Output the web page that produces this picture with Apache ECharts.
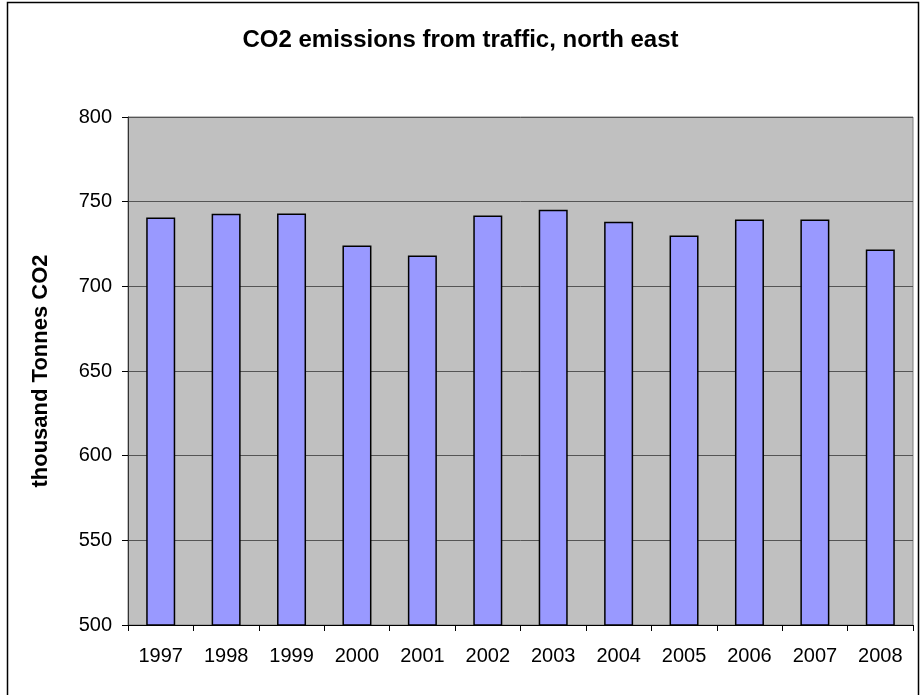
<!DOCTYPE html>
<html>
<head>
<meta charset="utf-8">
<script src="https://cdn.jsdelivr.net/npm/echarts@6/dist/echarts.min.js"></script>
<style>html,body{margin:0;padding:0;background:#fff}#c{width:921px;height:695px}</style>
</head>
<body>
<div id="c"></div>
<script>
const years = ['1997','1998','1999','2000','2001','2002','2003','2004','2005','2006','2007','2008'];
const emissions = [740.6, 742.9, 743, 724.1, 718.2, 741.8, 745.3, 738.2, 730, 739.4, 739.4, 721.8];
const titleText = 'CO2 emissions from traffic, north east';
const yAxisName = 'thousand Tonnes CO2';

const chart = echarts.init(document.getElementById('c'), null, {renderer: 'canvas'});
const font = 'Liberation Sans, Arial, sans-serif';
chart.setOption({
  animation: false,
  backgroundColor: '#ffffff',
  title: {
    text: titleText, left: 'center', top: 23,
    textStyle: {fontFamily: font, fontSize: 24, fontWeight: 'bold', color: '#000'}
  },
  graphic: [{
    type: 'rect', shape: {x: 7.5, y: 2.5, width: 911, height: 700},
    style: {fill: 'none', stroke: '#000', lineWidth: 1.5}, z: -1
  }],
  grid: {left: 128, right: 8, top: 117, bottom: 70, show: true, backgroundColor: '#C0C0C0', borderColor: '#808080', borderWidth: 1},
  xAxis: {
    type: 'category', data: years,
    axisLine: {lineStyle: {color: '#000', width: 1}},
    axisTick: {show: true, length: 6, inside: false, lineStyle: {color: '#000'}},
    axisLabel: {fontFamily: font, fontSize: 20, color: '#000', margin: 21}
  },
  yAxis: {
    type: 'value', min: 500, max: 800, interval: 50,
    name: yAxisName, nameLocation: 'middle', nameGap: 76,
    nameTextStyle: {fontFamily: font, fontSize: 22, fontWeight: 'bold', color: '#000'},
    axisLine: {show: true, lineStyle: {color: '#333', width: 1}},
    axisTick: {show: true, length: 6, lineStyle: {color: '#000'}},
    axisLabel: {fontFamily: font, fontSize: 20, color: '#000', margin: 16},
    splitLine: {lineStyle: {color: '#555', width: 1}}
  },
  series: [{
    type: 'bar', data: emissions, barWidth: 29,
    itemStyle: {color: '#9999FF', borderColor: '#000', borderWidth: 1.5}
  }]
});
</script>
</body>
</html>
